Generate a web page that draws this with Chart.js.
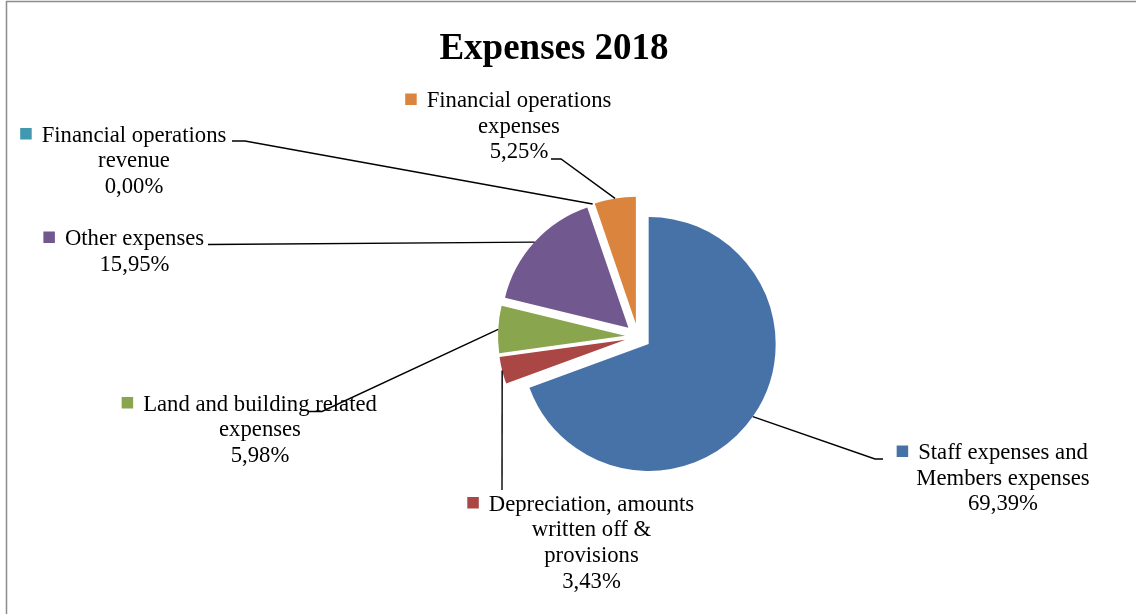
<!DOCTYPE html>
<html>
<head>
<meta charset="utf-8">
<title>Expenses 2018</title>
<script src="https://cdn.jsdelivr.net/npm/chart.js@4/dist/chart.umd.min.js"></script>
<style>
  body { margin: 0; background: #fff; }
  #wrap { width: 1136px; height: 614px; }
</style>
</head>
<body>
<div id="wrap"><canvas id="pie" width="1136" height="614"></canvas></div>
<script>
const title = "Expenses 2018";

const categories = [
  ["Staff expenses and", "Members expenses"],
  ["Depreciation, amounts", "written off &", "provisions"],
  ["Land and building related", "expenses"],
  ["Other expenses"],
  ["Financial operations", "revenue"],
  ["Financial operations", "expenses"],
];

const shares = [69.39, 3.43, 5.98, 15.95, 0.0, 5.25];

const colors = ["#4672a8", "#aa4644", "#89a54e", "#71588f", "#4198af", "#db843d"];

// where each label block sits (centre x, first baseline) and where its leader starts
const labelBoxes = [
  { x: 1003, y: 459, lead: { x: 883, y: 459, hook: -8 } },
  { x: 591.5, y: 510.5, lead: { x: 502, y: 490, hook: 0 } },
  { x: 260, y: 410.5, lead: { x: 308, y: 411.5, hook: 14 } },
  { x: 134.5, y: 245, lead: { x: 208, y: 244.5, hook: 0 } },
  { x: 134, y: 141.5, lead: { x: 232, y: 141, hook: 13 } },
  { x: 519, y: 107, lead: { x: 551, y: 159, hook: 10 } },
];

const EXPLODE = 13;
const RADIUS = 127;
const FONT = '22.7px "Liberation Serif", "Times New Roman", serif';
const LINE = 25.7;

const fmt = (v) => v.toFixed(2).replace(".", ",") + "%";

const decorations = {
  id: "decorations",
  // ArcElement pushes an offset slice by offset/4, but also grows it by offset/4 * fix
  // and trims its angle a little; undo both so the slices are plain exploded wedges
  afterDatasetUpdate(chart) {
    chart.getDatasetMeta(0).data.forEach((arc) => {
      const c = arc.endAngle - arc.startAngle;
      const grow = EXPLODE * (1 - Math.sin(Math.min(Math.PI, c)));
      const trim = grow / (2 * Math.PI * RADIUS);
      arc.outerRadius = RADIUS - grow;
      arc.startAngle -= trim;
      arc.endAngle += trim;
    });
  },
  beforeDraw(chart) {
    const ctx = chart.ctx;
    ctx.save();
    ctx.fillStyle = "#fff";
    ctx.fillRect(0, 0, chart.width, chart.height);
    ctx.strokeStyle = "#8c8c8c";
    ctx.lineWidth = 1.5;
    ctx.beginPath();
    ctx.moveTo(6.5, chart.height);
    ctx.lineTo(6.5, 1.5);
    ctx.lineTo(chart.width, 1.5);
    ctx.stroke();

    ctx.fillStyle = "#000";
    ctx.font = 'bold 37px "Liberation Serif", "Times New Roman", serif';
    ctx.textAlign = "center";
    ctx.textBaseline = "alphabetic";
    ctx.fillText(title, 554, 59);
    ctx.restore();
  },
  afterDatasetsDraw(chart) {
    const ctx = chart.ctx;
    const meta = chart.getDatasetMeta(0);
    ctx.save();

    // leader lines
    ctx.strokeStyle = "#000";
    ctx.lineWidth = 1.4;
    meta.data.forEach((arc, i) => {
      const p = arc.getProps(["x", "y", "startAngle", "endAngle"], true);
      const mid = (p.startAngle + p.endAngle) / 2;
      const r = RADIUS + EXPLODE;
      const ex = p.x + Math.cos(mid) * r;
      const ey = p.y + Math.sin(mid) * r;
      const lead = labelBoxes[i].lead;
      ctx.beginPath();
      ctx.moveTo(lead.x, lead.y);
      ctx.lineTo(lead.x + lead.hook, lead.y);
      ctx.lineTo(ex, ey);
      ctx.stroke();
    });

    // label text with legend key
    ctx.font = FONT;
    ctx.textAlign = "center";
    ctx.textBaseline = "alphabetic";
    categories.forEach((lines, i) => {
      const box = labelBoxes[i];
      const all = lines.concat([fmt(shares[i])]);
      ctx.fillStyle = "#000";
      all.forEach((t, k) => ctx.fillText(t, box.x, box.y + k * LINE));
      const w = ctx.measureText(all[0]).width;
      const left = box.x - w / 2;
      ctx.fillStyle = colors[i];
      ctx.fillRect(left - 21.5, box.y - 13.5, 11.5, 11.5);
    });
    ctx.restore();
  },
};

new Chart(document.getElementById("pie"), {
  type: "pie",
  data: {
    labels: categories,
    datasets: [
      {
        data: shares,
        backgroundColor: colors,
        borderWidth: 0,
        offset: EXPLODE * 4,
        radius: RADIUS,
      },
    ],
  },
  options: {
    responsive: false,
    animation: false,
    events: [],
    layout: { padding: { left: 140, right: 0, top: 59, bottom: 0 } },
    plugins: {
      legend: { display: false },
      title: { display: false },
      tooltip: { enabled: false },
    },
  },
  plugins: [decorations],
});
</script>
</body>
</html>
